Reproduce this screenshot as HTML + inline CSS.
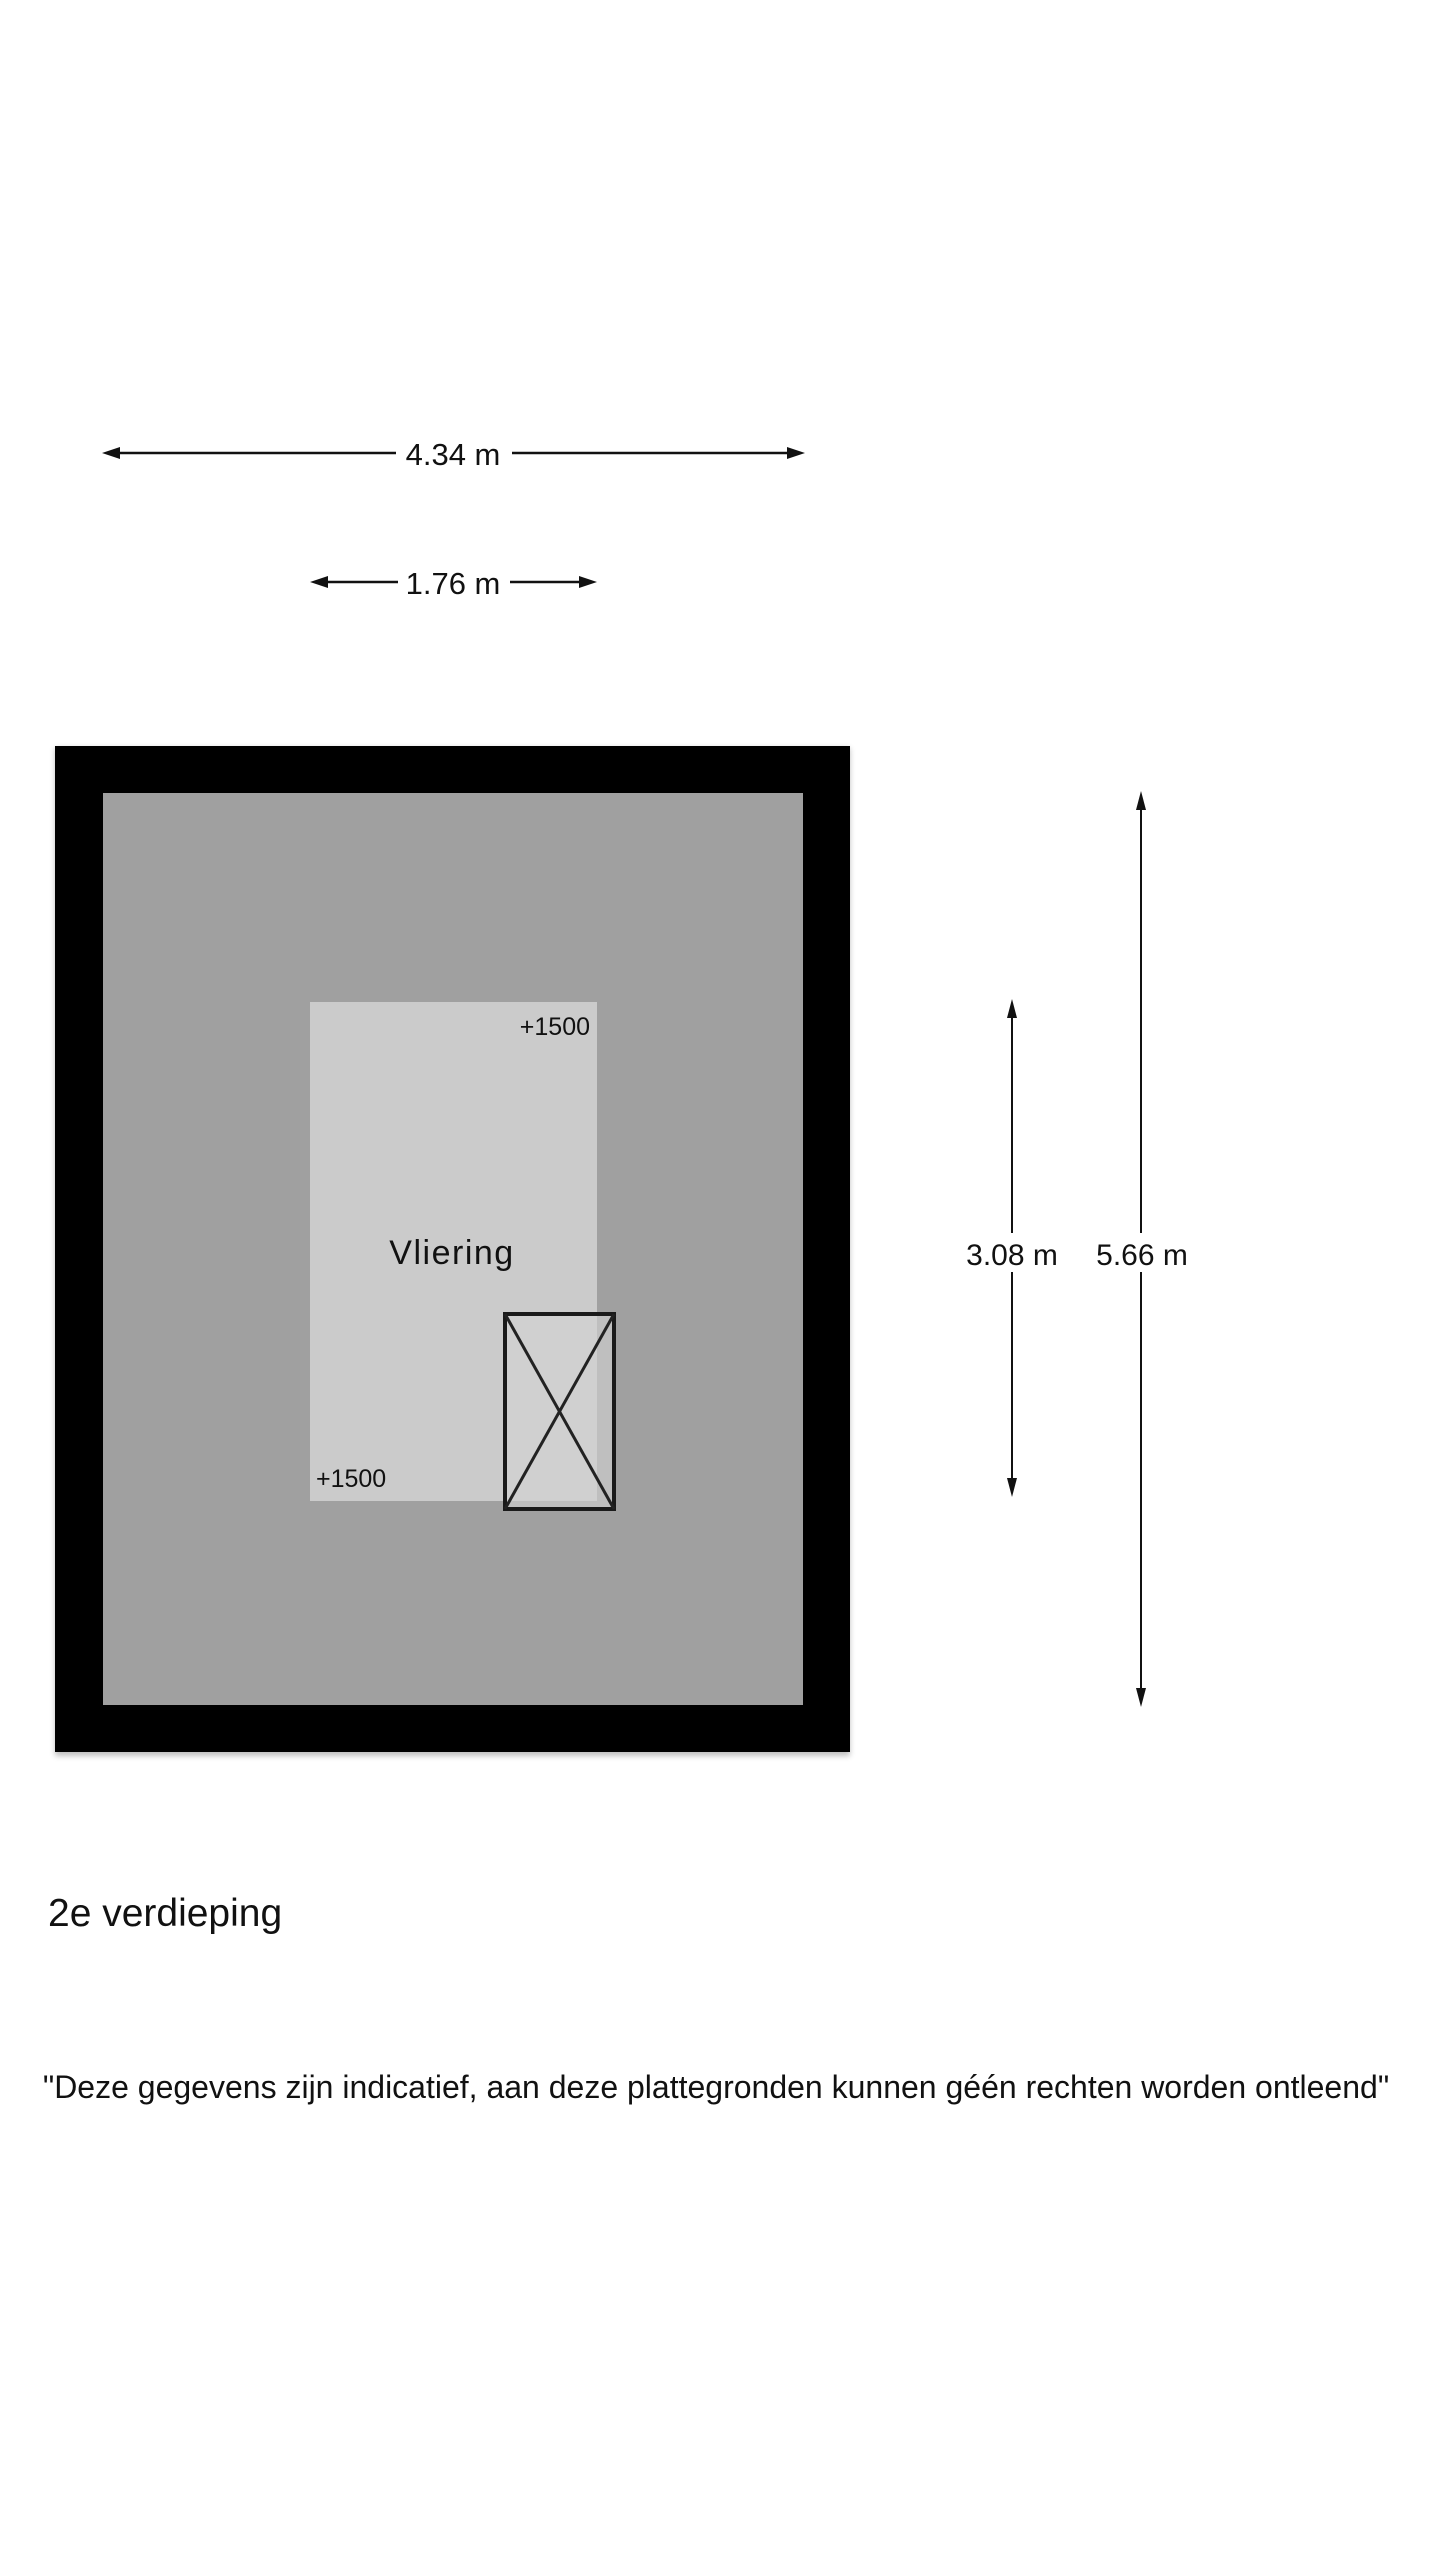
<!DOCTYPE html>
<html><head><meta charset="utf-8"><style>
html,body{margin:0;padding:0;background:#fff;}
body{width:1440px;height:2560px;position:relative;overflow:hidden;font-family:"Liberation Sans",sans-serif;}
</style></head><body>
<svg width="1440" height="2560" viewBox="0 0 1440 2560" xmlns="http://www.w3.org/2000/svg" style="position:absolute;left:0;top:0">
<defs>
<filter id="sh" x="-5%" y="-5%" width="110%" height="110%"><feGaussianBlur stdDeviation="3"/></filter>
</defs>
<rect x="55" y="748" width="795" height="1008" fill="#000" opacity="0.25" filter="url(#sh)"/>
<rect x="55" y="746" width="795" height="1006" fill="#000"/>
<rect x="103" y="793" width="700" height="912" fill="#a0a0a0"/>
<rect x="310" y="1002" width="287" height="499" fill="#cbcbcb"/>
<rect x="505" y="1314" width="109" height="195" fill="#d3d3d3" fill-opacity="0.6" stroke="#1a1a1a" stroke-width="4"/>
<line x1="505" y1="1314" x2="614" y2="1509" stroke="#222" stroke-width="3"/>
<line x1="614" y1="1314" x2="505" y2="1509" stroke="#222" stroke-width="3"/>
<text x="452" y="1264" font-size="34" text-anchor="middle" letter-spacing="1.5" fill="#111">Vliering</text>
<text x="590" y="1035" font-size="25" text-anchor="end" fill="#111">+1500</text>
<text x="316" y="1487" font-size="25" fill="#111">+1500</text>
<g stroke="#111" stroke-width="2.5" fill="#111">
<line x1="110" y1="453" x2="396" y2="453"/><line x1="512" y1="453" x2="795" y2="453"/>
<polygon points="102,453 120,447 120,459" stroke="none"/>
<polygon points="805,453 787,447 787,459" stroke="none"/>
<line x1="318" y1="582" x2="398" y2="582"/><line x1="510" y1="582" x2="588" y2="582"/>
<polygon points="310,582 328,576 328,588" stroke="none"/>
<polygon points="597,582 579,576 579,588" stroke="none"/>
</g>
<text x="453" y="465" font-size="31" text-anchor="middle" fill="#111">4.34 m</text>
<text x="453" y="594" font-size="31" text-anchor="middle" fill="#111">1.76 m</text>
<g stroke="#111" stroke-width="2" fill="#111">
<line x1="1012" y1="1008" x2="1012" y2="1233"/><line x1="1012" y1="1272" x2="1012" y2="1488"/>
<polygon points="1012,999 1007,1018 1017,1018" stroke="none"/>
<polygon points="1012,1497 1007,1478 1017,1478" stroke="none"/>
<line x1="1141" y1="800" x2="1141" y2="1233"/><line x1="1141" y1="1272" x2="1141" y2="1698"/>
<polygon points="1141,791 1136,810 1146,810" stroke="none"/>
<polygon points="1141,1707 1136,1688 1146,1688" stroke="none"/>
</g>
<text x="1012" y="1265" font-size="30" text-anchor="middle" fill="#111">3.08 m</text>
<text x="1142" y="1265" font-size="30" text-anchor="middle" fill="#111">5.66 m</text>
<text x="48" y="1926" font-size="39" fill="#111">2e verdieping</text>
<text x="716" y="2098" font-size="32" text-anchor="middle" fill="#111">"Deze gegevens zijn indicatief, aan deze plattegronden kunnen géén rechten worden ontleend"</text>
</svg>
</body></html>
